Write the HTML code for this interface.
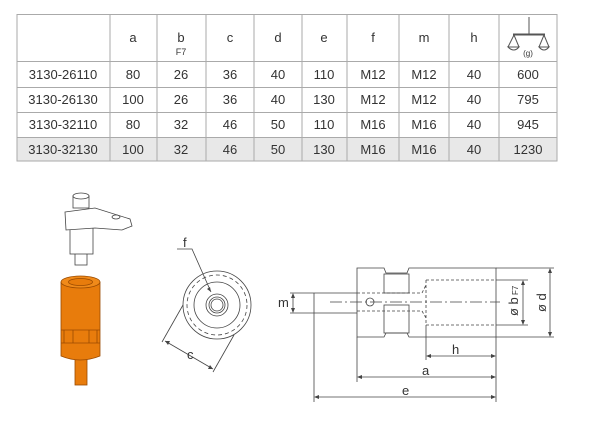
<!DOCTYPE html>
<html><head><style>
body{margin:0;background:#fff;width:600px;height:437px;overflow:hidden}
svg{display:block}
text{font-family:"Liberation Sans",sans-serif;fill:#333}
</style></head><body>
<svg width="600" height="437" viewBox="0 0 600 437" xmlns="http://www.w3.org/2000/svg">
<!-- table -->
<rect x="17" y="137" width="540" height="24" fill="#e8e8e8"/>
<g stroke="#aaa" stroke-width="1" fill="none">
<rect x="17" y="14.5" width="540" height="146.5"/>
<line x1="17" y1="61.5" x2="557" y2="61.5"/>
<line x1="17" y1="87.5" x2="557" y2="87.5"/>
<line x1="17" y1="112.5" x2="557" y2="112.5"/>
<line x1="17" y1="137.5" x2="557" y2="137.5"/>
<line x1="110" y1="14" x2="110" y2="161"/><line x1="157" y1="14" x2="157" y2="161"/>
<line x1="206" y1="14" x2="206" y2="161"/><line x1="254" y1="14" x2="254" y2="161"/>
<line x1="302" y1="14" x2="302" y2="161"/><line x1="347" y1="14" x2="347" y2="161"/>
<line x1="399" y1="14" x2="399" y2="161"/><line x1="449" y1="14" x2="449" y2="161"/>
<line x1="499" y1="14" x2="499" y2="161"/>
</g>
<g font-size="13" text-anchor="middle">
<text x="133" y="42">a</text><text x="181" y="42">b</text><text x="181" y="55" font-size="9">F7</text>
<text x="230" y="42">c</text><text x="278" y="42">d</text><text x="324" y="42">e</text>
<text x="373" y="42">f</text><text x="424" y="42">m</text><text x="474" y="42">h</text>
<text x="528" y="56" font-size="8">(g)</text>
</g>
<g stroke="#555" fill="none" stroke-width="1">
<line x1="529" y1="17" x2="529" y2="34"/><line x1="513" y1="34.5" x2="545" y2="34.5" stroke-width="2"/>
<path d="M514 35 L508 47 M514 35 L519 47 M508 47 Q514 53 519 47 Z"/>
<path d="M544 35 L539 47 M544 35 L549 47 M539 47 Q544 53 549 47 Z"/>
</g>
<g font-size="13" text-anchor="middle">
<g transform="translate(0,79)"><text x="63">3130-26110</text><text x="133">80</text><text x="181">26</text><text x="230">36</text><text x="278">40</text><text x="324">110</text><text x="373">M12</text><text x="424">M12</text><text x="474">40</text><text x="528">600</text></g>
<g transform="translate(0,104)"><text x="63">3130-26130</text><text x="133">100</text><text x="181">26</text><text x="230">36</text><text x="278">40</text><text x="324">130</text><text x="373">M12</text><text x="424">M12</text><text x="474">40</text><text x="528">795</text></g>
<g transform="translate(0,129)"><text x="63">3130-32110</text><text x="133">80</text><text x="181">32</text><text x="230">46</text><text x="278">50</text><text x="324">110</text><text x="373">M16</text><text x="424">M16</text><text x="474">40</text><text x="528">945</text></g>
<g transform="translate(0,154)"><text x="63">3130-32130</text><text x="133">100</text><text x="181">32</text><text x="230">46</text><text x="278">50</text><text x="324">130</text><text x="373">M16</text><text x="424">M16</text><text x="474">40</text><text x="528">1230</text></g>
</g>
<!-- lever part -->
<g stroke="#444" fill="#fff" stroke-width="0.8">
<rect x="75" y="252" width="12" height="13"/>
<rect x="70" y="228" width="23" height="26"/>
<path d="M65 212 L95 208 L130 219 L132 226 L122 230 L95 228 L66 230 Z"/>
<rect x="73" y="196" width="16" height="12"/>
<ellipse cx="81" cy="196" rx="8" ry="3"/>
<ellipse cx="116" cy="217" rx="4" ry="2"/>
</g>
<!-- orange cylinder -->
<g stroke="#9a4a00" stroke-width="0.8">
<rect x="75" y="355" width="12" height="30" fill="#e87c0c"/>
<path d="M61 282 L61 356 Q80 364 100 356 L100 282 Z" fill="#e87c0c"/>
<ellipse cx="80.5" cy="282" rx="19.5" ry="6" fill="#f08a1a"/>
<ellipse cx="80.5" cy="282" rx="12" ry="3.5" fill="#e87c0c"/>
<path d="M61 330 L100 330 M61 343 L100 343 M64 330 L64 343 M73 330 L73 343 M89 330 L89 343 M97 330 L97 343" fill="none"/>
</g>
<!-- front view -->
<g stroke="#444" fill="none" stroke-width="0.8">
<circle cx="217" cy="305" r="34"/>
<circle cx="217" cy="305" r="30" stroke-dasharray="4,3"/>
<circle cx="217" cy="305" r="23"/>
<circle cx="217" cy="305" r="11"/>
<circle cx="217" cy="305" r="8"/>
<circle cx="217" cy="305" r="6"/>
<path d="M177 249 L192 249 L211 292"/>
<line x1="183" y1="305" x2="162" y2="342"/>
<line x1="234" y1="335" x2="213" y2="372"/>
<line x1="165" y1="341" x2="213" y2="369"/>
</g>
<text x="183" y="247" font-size="13">f</text>
<text x="187" y="359" font-size="13">c</text>
<!-- side view -->
<g stroke="#444" fill="none" stroke-width="0.8">
<path d="M357 268 L384 268 L386 273 L407 273 L409 268 L496 268 L496 337 L409 337 L407 333 L386 333 L384 337 L357 337 Z"/>
<rect x="384" y="274" width="25" height="19"/>
<rect x="384" y="305" width="25" height="28"/>
<path d="M314 293 L357 293 M314 313 L357 313 M314 293 L314 313"/>
<circle cx="370" cy="302" r="4"/>
<path d="M426 280 L496 280 M426 325 L496 325 M426 280 L426 325 M357 293 L422 293 L426 285 M357 311 L422 311 L426 318" stroke-dasharray="3,2"/>
<line x1="330" y1="302" x2="500" y2="302" stroke-dasharray="12,3,2,3"/>
<line x1="290" y1="293" x2="314" y2="293"/><line x1="290" y1="313" x2="314" y2="313"/>
<line x1="293" y1="294" x2="293" y2="312"/>
<line x1="496" y1="280" x2="528" y2="280"/><line x1="496" y1="325" x2="528" y2="325"/>
<line x1="523" y1="281" x2="523" y2="324"/>
<line x1="496" y1="268" x2="554" y2="268"/><line x1="496" y1="337" x2="554" y2="337"/>
<line x1="550" y1="269" x2="550" y2="336"/>
<line x1="314" y1="313" x2="314" y2="402"/><line x1="357" y1="337" x2="357" y2="382"/>
<line x1="426" y1="325" x2="426" y2="360"/><line x1="496" y1="337" x2="496" y2="402"/>
<line x1="427" y1="356" x2="495" y2="356"/>
<line x1="358" y1="377" x2="495" y2="377"/>
<line x1="315" y1="397" x2="495" y2="397"/>
</g>
<g fill="#444">
<path d="M293 293 l-2 5 h4z M293 313 l-2 -5 h4z"/>
<path d="M523 280 l-2 5 h4z M523 325 l-2 -5 h4z"/>
<path d="M550 268 l-2 5 h4z M550 337 l-2 -5 h4z"/>
<path d="M426 356 l5 -2 v4z M496 356 l-5 -2 v4z"/>
<path d="M357 377 l5 -2 v4z M496 377 l-5 -2 v4z"/>
<path d="M314 397 l5 -2 v4z M496 397 l-5 -2 v4z"/>
<path d="M165 341 l3 4 l2 -4z M213 369 l-3 -4 l-2 4z"/>
<path d="M211 292 l-1 -5 l-3 2z"/>
</g>
<text x="278" y="307" font-size="13">m</text>
<text x="452" y="354" font-size="13">h</text>
<text x="422" y="375" font-size="13">a</text>
<text x="402" y="395" font-size="13">e</text>
<text transform="translate(518,316) rotate(-90)" font-size="13">ø b<tspan font-size="8"> F7</tspan></text>
<text transform="translate(546,312) rotate(-90)" font-size="13">ø d</text>
</svg>
</body></html>
